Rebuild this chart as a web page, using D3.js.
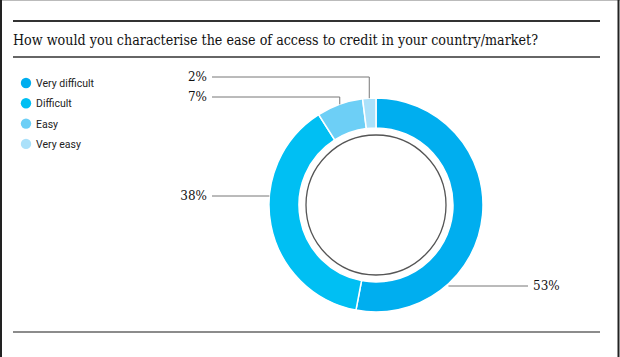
<!DOCTYPE html>
<html>
<head>
<meta charset="utf-8">
<script src="https://cdn.jsdelivr.net/npm/d3@7"></script>
<style>
  html, body { margin: 0; padding: 0; background: #fff; }
  svg { display: block; }
</style>
</head>
<body>
<svg id="chart" width="620" height="357"></svg>
<script>
// ---- data ----
const title = "How would you characterise the ease of access to credit in your country/market?";
const categories = ["Very difficult", "Difficult", "Easy", "Very easy"];
const values = [53, 38, 7, 2];
const valueLabels = ["53%", "38%", "7%", "2%"];
const colors = ["#00aeef", "#00bff3", "#6dcff6", "#abe1fa"];

// ---- layout config ----
const W = 620, H = 357;
const cx = 376, cy = 205;
const outerR = 107, innerR = 77, coreR = 70;
// where the leader line meets each slice (fraction along slice)
const anchorFrac = [0.72, 0.615, 0.5, 0.5];
// label rows for leader lines
const leader = [
  { side: "right", y: 286, x: 533 },
  { side: "left",  y: 196, x: 207 },
  { side: "left",  y: 97,  x: 207 },
  { side: "left",  y: 77,  x: 207 }
];

const svg = d3.select("#chart");

// frame
svg.append("line").attr("x1", 0).attr("x2", W).attr("y1", 0.5).attr("y2", 0.5)
  .attr("stroke", "#bbb").attr("stroke-width", 1);
svg.append("line").attr("x1", 1).attr("x2", 1).attr("y1", 0).attr("y2", H)
  .attr("stroke", "#222").attr("stroke-width", 2);
svg.append("line").attr("x1", 618.5).attr("x2", 618.5).attr("y1", 0).attr("y2", H)
  .attr("stroke", "#222").attr("stroke-width", 2);

// rules
svg.append("line").attr("x1", 13).attr("x2", 600).attr("y1", 21).attr("y2", 21)
  .attr("stroke", "#333").attr("stroke-width", 2);
svg.append("line").attr("x1", 13).attr("x2", 600).attr("y1", 57).attr("y2", 57)
  .attr("stroke", "#333").attr("stroke-width", 1.3);
svg.append("line").attr("x1", 13).attr("x2", 600).attr("y1", 332).attr("y2", 332)
  .attr("stroke", "#666").attr("stroke-width", 1.5);

// title
svg.append("text").attr("x", 13).attr("y", 45)
  .attr("font-family", "'DejaVu Serif', serif")
  .attr("font-size", 14)
  .attr("fill", "#111")
  .attr("textLength", 525).attr("lengthAdjust", "spacingAndGlyphs")
  .text(title);

// legend
const leg = svg.append("g");
categories.forEach((c, i) => {
  const y = 83 + i * 20.3;
  leg.append("circle").attr("cx", 26).attr("cy", y).attr("r", 5.2).attr("fill", colors[i]);
  leg.append("text").attr("x", 36).attr("y", y + 4)
    .attr("font-family", "Roboto, sans-serif").attr("font-size", 10.5)
    .attr("fill", "#222").text(c);
});

// pie
const pie = d3.pie().sort(null).value(d => d)(values);
const arc = d3.arc().innerRadius(innerR).outerRadius(outerR);
const g = svg.append("g").attr("transform", `translate(${cx},${cy})`);
g.selectAll("path.slice").data(pie).join("path")
  .attr("class", "slice")
  .attr("d", arc)
  .attr("fill", (d, i) => colors[i])
  .attr("stroke", "#fff").attr("stroke-width", 1.5);

g.append("circle").attr("r", coreR).attr("fill", "#fff")
  .attr("stroke", "#555").attr("stroke-width", 1.3);

// leaders + labels
pie.forEach((d, i) => {
  const a = d.startAngle + (d.endAngle - d.startAngle) * anchorFrac[i];
  const px = cx + outerR * Math.sin(a);
  const py = cy - outerR * Math.cos(a);
  const L = leader[i];
  let pts;
  if (L.side === "right") {
    pts = [[px, L.y], [L.x - 5, L.y]];
  } else if (Math.abs(py - L.y) < 25 && px < cx - outerR + 10) {
    pts = [[L.x + 5, L.y], [cx - Math.sqrt(outerR * outerR - (L.y - cy) ** 2), L.y]];
  } else {
    pts = [[L.x + 5, L.y], [px, L.y], [px, py]];
  }
  svg.append("path").attr("d", d3.line()(pts))
    .attr("fill", "none").attr("stroke", "#777").attr("stroke-width", 1);
  svg.append("text")
    .attr("x", L.x)
    .attr("y", L.y + 4)
    .attr("text-anchor", L.side === "right" ? "start" : "end")
    .attr("font-family", "'DejaVu Serif', serif").attr("font-size", 12)
    .attr("fill", "#111").text(valueLabels[i]);
});
</script>
</body>
</html>
